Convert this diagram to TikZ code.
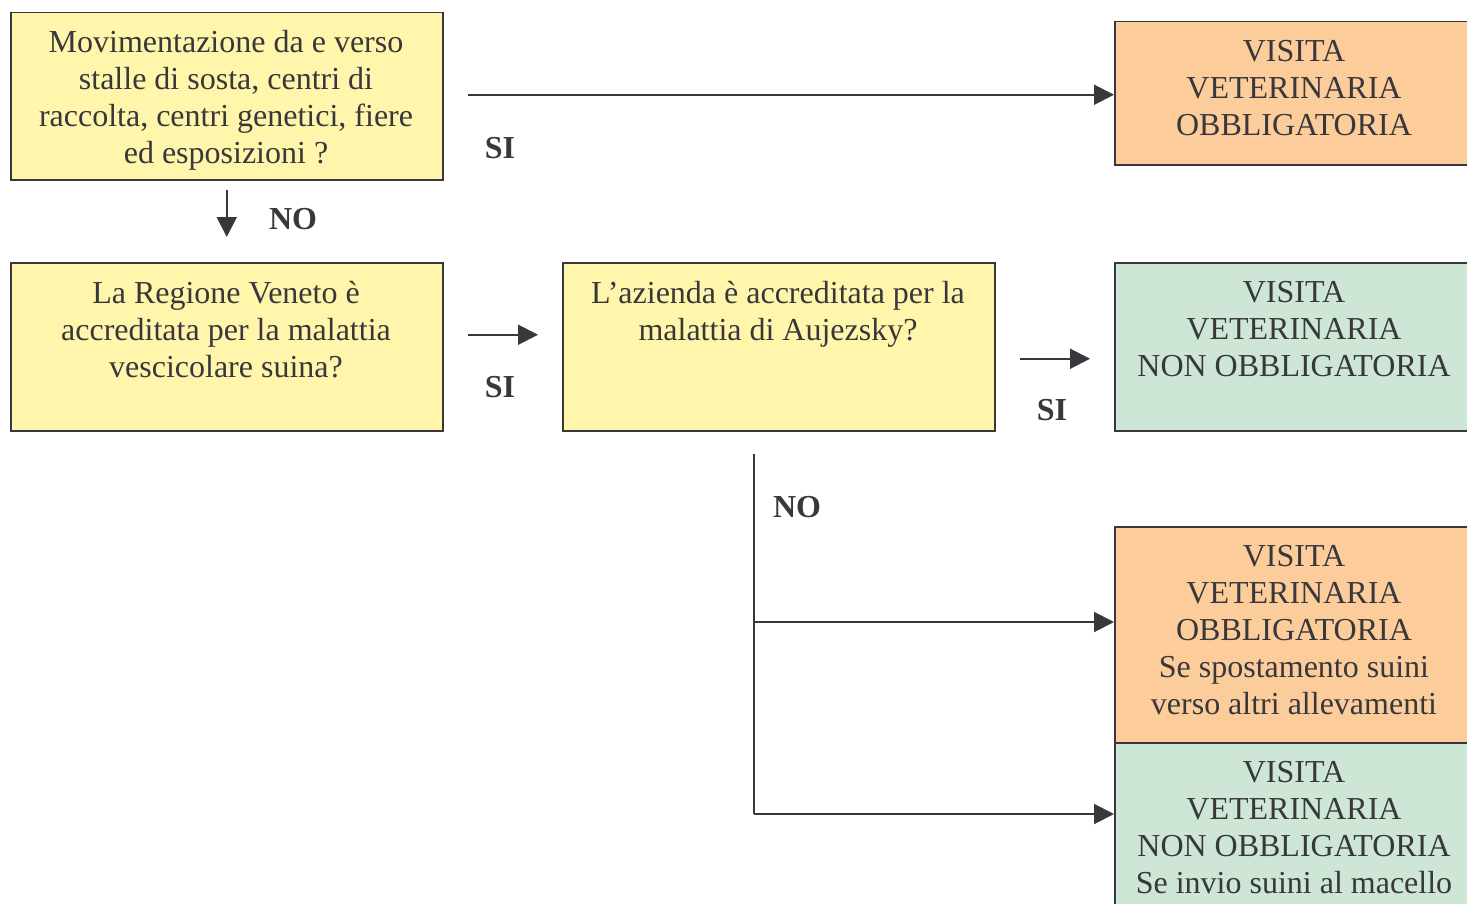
\documentclass[tikz,border=0pt]{standalone}
\usepackage{fontspec}
\setmainfont{Liberation Serif}
\usetikzlibrary{arrows.meta}
\definecolor{ink}{HTML}{38383C}
\definecolor{yel}{HTML}{FFF6AB}
\definecolor{ora}{HTML}{FCCD9B}
\definecolor{grn}{HTML}{CDE6D5}
\tikzset{
  box/.style={draw=ink, line width=0.75pt, anchor=north west, inner sep=0pt},
  txt/.style={text=ink, align=center, anchor=north, inner sep=0pt, font=\fontsize{16pt}{18.5pt}\selectfont},
  lab/.style={text=ink, inner sep=0pt, font=\fontsize{16pt}{18.5pt}\selectfont\bfseries},
  conn/.style={draw=ink, line width=1pt},
  arr/.style={conn, -{Triangle[length=10pt,width=10pt]}},
}
\begin{document}
\begin{tikzpicture}[x=0.5pt,y=-0.5pt]
\useasboundingbox (0,0) rectangle (1467,904);
\clip (0,0) rectangle (1467,904);
% boxes
\node[box, fill=yel, minimum width=216pt, minimum height=83.5pt] (a) at (10,12) {};
\node[box, fill=ora, minimum width=180pt, minimum height=71.5pt] (o1) at (1114,21) {};
\node[box, fill=yel, minimum width=216pt, minimum height=84pt] (b) at (10,262) {};
\node[box, fill=yel, minimum width=216pt, minimum height=84pt] (c) at (562,262) {};
\node[box, fill=grn, minimum width=180pt, minimum height=84pt] (g) at (1114,262) {};
\node[box, fill=ora, minimum width=180pt, minimum height=108pt] (o2) at (1114,526) {};
\node[box, fill=grn, minimum width=180pt, minimum height=90pt] (g2) at (1114,742) {};
% texts
\node[txt] (ta) at (226,30) {Movimentazione da e verso\\stalle di sosta, centri di\\raccolta, centri genetici, fiere\\ed esposizioni ?};
\node[txt] (to1) at (1294,40) {VISITA\\VETERINARIA\\OBBLIGATORIA};
\node[txt] (tb) at (226,281) {La Regione Veneto è\\accreditata per la malattia\\vescicolare suina?};
\node[txt] (tc) at (778,281) {L’azienda è accreditata per la\\malattia di Aujezsky?};
\node[txt] (tg) at (1294,281) {VISITA\\VETERINARIA\\NON OBBLIGATORIA};
\node[txt] (to2) at (1294,545) {VISITA\\VETERINARIA\\OBBLIGATORIA\\Se spostamento suini\\verso altri allevamenti};
\node[txt] (tg2) at (1294,761) {VISITA\\VETERINARIA\\NON OBBLIGATORIA\\Se invio suini al macello};
% connectors
\draw[arr, shorten <=12pt] ([yshift=0.75pt]a.east) -- ([yshift=0.75pt]a.east -| o1.west);
\draw[arr, shorten <=4.5pt, shorten >=12.5pt] (a.south) -- (b.north);
\draw[arr, shorten <=12pt, shorten >=12pt] ([yshift=6pt]b.east) -- ([yshift=6pt]b.east -| c.west);
\draw[arr, shorten <=12pt, shorten >=12pt] ([yshift=-6pt]c.east) -- ([yshift=-6pt]c.east -| g.west);
\coordinate (cd) at (754,454);
\coordinate (j1) at (754,622);
\coordinate (j2) at (754,814);
\draw[conn] (cd) -- (j2);
\draw[arr] (j1) -- (j1 -| o2.west);
\draw[arr] (j2) -- (j2 -| g2.west);
% labels
\node[lab] (l1) at (500,148) {SI};
\node[lab] (l2) at (293,219) {NO};
\node[lab] (l3) at (500,387) {SI};
\node[lab] (l4) at (1052,410) {SI};
\node[lab] (l5) at (797,507) {NO};
\end{tikzpicture}
\end{document}
